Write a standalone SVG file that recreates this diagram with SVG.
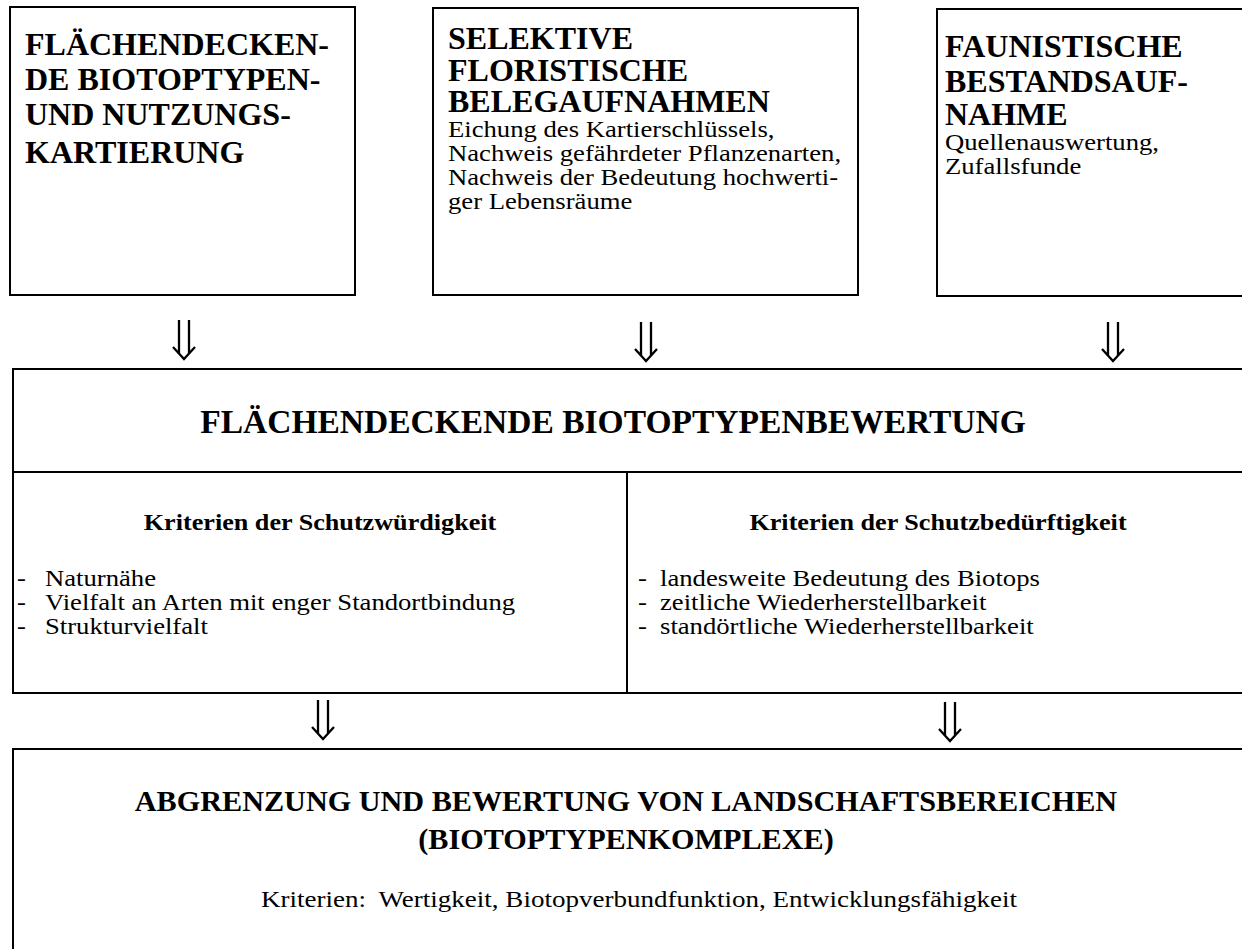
<svg xmlns="http://www.w3.org/2000/svg" width="1242" height="949" viewBox="0 0 1242 949">
<style>
.box{fill:none;stroke:#000;stroke-width:2}
.hd{font-family:"Liberation Serif","Times New Roman",serif;font-weight:bold;font-size:32px;fill:#000}
.tt{font-family:"Liberation Serif","Times New Roman",serif;font-weight:bold;font-size:33.5px;fill:#000}
.sh{font-family:"Liberation Serif","Times New Roman",serif;font-weight:bold;font-size:24px;fill:#000}
.tx{font-family:"Liberation Serif","Times New Roman",serif;font-size:23px;fill:#000}
.arr{fill:none;stroke:#000;stroke-width:2.3}
</style>
<defs>
<path id="dbl" class="arr" d="M-5,0 V33 M5,0 V33 M-11,27 L0,39 L11,27"/>
</defs>
<rect width="1242" height="949" fill="#fff"/>
<g id="n1">
<rect class="box" x="10" y="7" width="345" height="288"/>
<text class="hd" x="25" y="55">FLÄCHENDECKEN-</text>
<text class="hd" x="25" y="90">DE BIOTOPTYPEN-</text>
<text class="hd" x="25" y="125">UND NUTZUNGS-</text>
<text class="hd" x="25" y="163">KARTIERUNG</text>
</g>
<g id="n2">
<rect class="box" x="433" y="8" width="425" height="287"/>
<text class="hd" x="448" y="49">SELEKTIVE</text>
<text class="hd" x="448" y="81">FLORISTISCHE</text>
<text class="hd" x="448" y="112">BELEGAUFNAHMEN</text>
<text class="tx" transform="translate(448,137) scale(1.16,1)">Eichung des Kartierschlüssels,</text>
<text class="tx" transform="translate(448,161) scale(1.16,1)">Nachweis gefährdeter Pflanzenarten,</text>
<text class="tx" transform="translate(448,185) scale(1.16,1)">Nachweis der Bedeutung hochwerti-</text>
<text class="tx" transform="translate(448,209) scale(1.16,1)">ger Lebensräume</text>
</g>
<g id="n3">
<rect class="box" x="937" y="9" width="310" height="287"/>
<text class="hd" x="945" y="57">FAUNISTISCHE</text>
<text class="hd" x="945" y="92">BESTANDSAUF-</text>
<text class="hd" x="945" y="125">NAHME</text>
<text class="tx" transform="translate(945,150) scale(1.16,1)">Quellenauswertung,</text>
<text class="tx" transform="translate(945,174) scale(1.16,1)">Zufallsfunde</text>
</g>
<g id="n4">
<rect class="box" x="13" y="369" width="1235" height="324"/>
<line class="box" x1="13" y1="472" x2="1248" y2="472"/>
<line class="box" x1="627" y1="472" x2="627" y2="693"/>
<text class="tt" x="613" y="433" text-anchor="middle">FLÄCHENDECKENDE BIOTOPTYPENBEWERTUNG</text>
<text class="sh" transform="translate(320,530) scale(1.09,1)" text-anchor="middle">Kriterien der Schutzwürdigkeit</text>
<text class="tx" transform="translate(17,586) scale(1.16,1)">-</text><text class="tx" transform="translate(45,586) scale(1.16,1)">Naturnähe</text>
<text class="tx" transform="translate(17,610) scale(1.16,1)">-</text><text class="tx" transform="translate(45,610) scale(1.16,1)">Vielfalt an Arten mit enger Standortbindung</text>
<text class="tx" transform="translate(17,634) scale(1.16,1)">-</text><text class="tx" transform="translate(45,634) scale(1.16,1)">Strukturvielfalt</text>
<text class="sh" transform="translate(938,530) scale(1.09,1)" text-anchor="middle">Kriterien der Schutzbedürftigkeit</text>
<text class="tx" transform="translate(638,586) scale(1.16,1)">-</text><text class="tx" transform="translate(660,586) scale(1.16,1)">landesweite Bedeutung des Biotops</text>
<text class="tx" transform="translate(638,610) scale(1.16,1)">-</text><text class="tx" transform="translate(660,610) scale(1.16,1)">zeitliche Wiederherstellbarkeit</text>
<text class="tx" transform="translate(638,634) scale(1.16,1)">-</text><text class="tx" transform="translate(660,634) scale(1.16,1)">standörtliche Wiederherstellbarkeit</text>
</g>
<g id="n5">
<rect class="box" x="13" y="749" width="1235" height="220"/>
<text class="tt" x="626" y="811" text-anchor="middle" style="font-size:30.2px">ABGRENZUNG UND BEWERTUNG VON LANDSCHAFTSBEREICHEN</text>
<text class="tt" x="626" y="849" text-anchor="middle" style="font-size:30.2px">(BIOTOPTYPENKOMPLEXE)</text>
<text class="tx" transform="translate(639,907) scale(1.16,1)" text-anchor="middle" style="font-size:23.3px">Kriterien:  <tspan dx="5">Wertigkeit, Biotopverbundfunktion, Entwicklungsfähigkeit</tspan></text>
</g>
<g id="connectors">
<use href="#dbl" x="184" y="320"/>
<use href="#dbl" x="646" y="322"/>
<use href="#dbl" x="1113" y="322"/>
<use href="#dbl" x="323" y="700"/>
<use href="#dbl" x="950" y="702"/>
</g>
</svg>
